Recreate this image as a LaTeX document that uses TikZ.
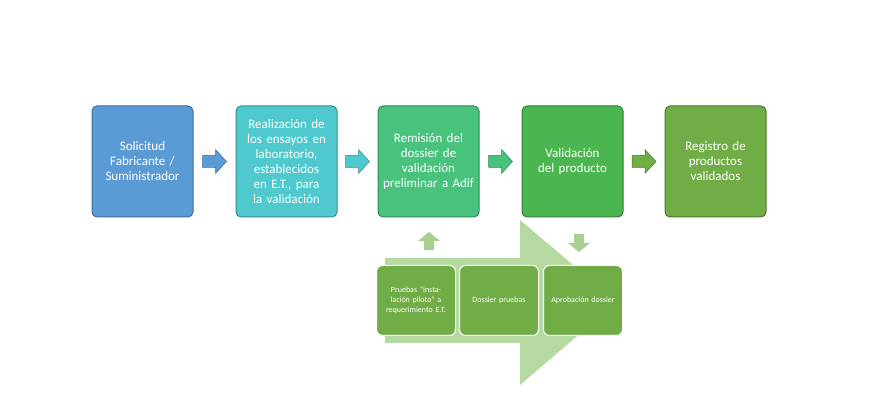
\documentclass[tikz,border=0pt]{standalone}
\usepackage{fontspec}
\setmainfont{Carlito}
\usetikzlibrary{positioning}
\definecolor{cBlue}{HTML}{5B9BD5}
\definecolor{cTeal}{HTML}{4FC9CE}
\definecolor{cMint}{HTML}{48C27C}
\definecolor{cGreen}{HTML}{4BB650}
\definecolor{cOlive}{HTML}{70AD47}
\definecolor{cPale}{HTML}{B6D8A1}
\tikzset{step box/.style={draw, rounded corners=5pt, line width=1pt, minimum width=101pt,
      minimum height=111pt, text width=92pt, align=center, text=white, font=\fontsize{13}{15}\selectfont}}
\tikzset{sub box/.style={draw=white, rounded corners=6pt, line width=1pt, fill=cOlive, minimum width=79pt,
      minimum height=70pt, text width=72pt, align=center, text=white, font=\fontsize{8}{10}\selectfont}}
\tikzset{chev/.style={fill=#1, draw=#1!70!black, line width=0.5pt}}
\begin{document}
\begin{tikzpicture}[x=1pt,y=-1pt]
\useasboundingbox (0,0) rectangle (895,419);

% big background arrow
\fill[cPale] (385,258) -- (520,258) -- (520,220) -- (617,302) -- (520,385) -- (520,343) -- (385,343) -- cycle;

\node[step box, fill=cBlue, draw=cBlue!70!black] (sol) at (142.5,161.5) {Solicitud Fabricante / Suministrador};
\node[step box, fill=cTeal, draw=cTeal!70!black, right=42pt of sol] (ens) {Realización de los ensayos en laboratorio, establecidos en E.T., para la validación};
\node[step box, fill=cMint, draw=cMint!70!black, right=40pt of ens] (rem) {Remisión del dossier de validación preliminar a Adif};
\node[step box, fill=cGreen, draw=cGreen!70!black, right=42pt of rem] (val) {Validación del producto\\[14pt]};
\node[step box, fill=cOlive, draw=cOlive!70!black, right=41pt of val] (reg) {Registro de productos validados};

\node[sub box] (pru) at (416,300.5) {Pruebas ``instalación piloto'' a requerimiento E.T.};
\node[sub box, right=3pt of pru] (dos) {Dossier pruebas};
\node[sub box, right=4pt of dos] (apr) {Aprobación dossier\\[8pt]};

% connector chevrons
\foreach \a/\b/\c in {sol/ens/cBlue, ens/rem/cTeal, rem/val/cMint, val/reg/cOlive}{
  \path (\a.east) -- (\b.west) coordinate[pos=0.5] (m);
  \draw[chev=\c] ([xshift=-12pt,yshift=-6pt]m) -- ([xshift=1pt,yshift=-6pt]m) -- ([xshift=1pt,yshift=-12pt]m)
     -- ([xshift=12pt]m) -- ([xshift=1pt,yshift=12pt]m) -- ([xshift=1pt,yshift=6pt]m) -- ([xshift=-12pt,yshift=6pt]m) -- cycle;
}
\coordinate (dn) at (429,241);
\fill[cPale!80!cOlive] ([xshift=-5pt,yshift=-9pt]dn) -- ([xshift=5pt,yshift=-9pt]dn) -- ([xshift=5pt,yshift=0pt]dn)
  -- ([xshift=11pt]dn) -- ([yshift=9pt]dn) -- ([xshift=-11pt]dn) -- ([xshift=-5pt]dn) -- cycle;
\coordinate (up) at (579,243);
\fill[cPale!80!cOlive] ([xshift=-5pt,yshift=9pt]up) -- ([xshift=5pt,yshift=9pt]up) -- ([xshift=5pt,yshift=0pt]up)
  -- ([xshift=11pt]up) -- ([yshift=-9pt]up) -- ([xshift=-11pt]up) -- ([xshift=-5pt]up) -- cycle;
\end{tikzpicture}
\end{document}
